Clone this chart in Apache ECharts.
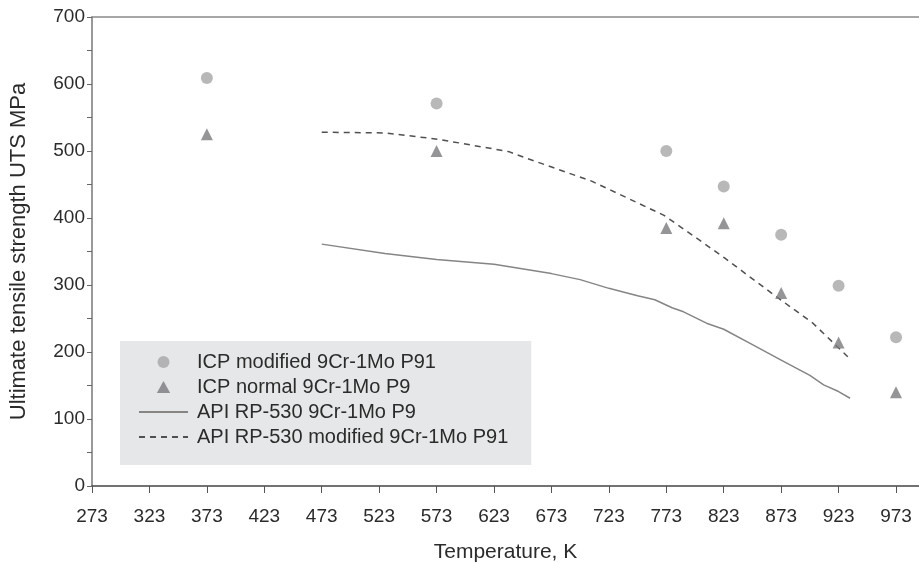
<!DOCTYPE html>
<html>
<head>
<meta charset="utf-8">
<script src="https://cdn.jsdelivr.net/npm/echarts@6/dist/echarts.min.js"></script>
<style>
  html, body { margin: 0; padding: 0; background: #fff; }
  #chart { width: 919px; height: 564px; }
</style>
</head>
<body>
<div id="chart"></div>
<script>
// x tick labels (K)
const xTicks = [273, 323, 373, 423, 473, 523, 573, 623, 673, 723, 773, 823, 873, 923, 973];

// ICP measured points [K, MPa]
const icpModifiedP91 = [[373, 609], [573, 571], [773, 500], [823, 447], [873, 375], [923, 299], [973, 222]];
const icpNormalP9 = [[373, 525], [573, 500], [773, 385], [823, 392], [873, 288], [923, 214], [973, 140]];

// API RP-530 curves
const apiP9 = [
  [473, 361], [528, 347], [573, 338], [623, 331], [673, 317], [698, 308],
  [723, 295], [748, 284], [763, 278], [778, 266], [788, 260], [808, 243],
  [823, 234], [848, 211], [873, 188], [898, 165], [910, 151], [923, 141], [933, 131]
];
const apiP91 = [
  [473, 528], [528, 527], [572, 518], [593, 512], [636, 499], [650, 490],
  [708, 455], [771, 404], [801, 368], [824, 340], [870, 281], [900, 244], [931, 193]
];

const font = 'Liberation Sans';
const textColor = '#2b2b2b';
const triPath = 'path://M5,0 L10,9 L0,9 Z';

const chart = echarts.init(document.getElementById('chart'));
chart.setOption({
  animation: false,
  grid: { left: 92, right: 0, top: 17, bottom: 78, outerBoundsMode: 'none' },
  textStyle: { fontFamily: font },
  legend: {
    orient: 'vertical',
    left: 120,
    top: 341,
    backgroundColor: '#e6e7e8',
    padding: [11, 23, 18, 18],
    itemWidth: 49,
    itemHeight: 12,
    itemGap: 5,
    textStyle: { fontSize: 20, lineHeight: 20, color: textColor, fontFamily: font, padding: [0, 0, 0, 4] },
    data: [
      { name: 'ICP modified 9Cr-1Mo P91', icon: 'circle' },
      { name: 'ICP normal 9Cr-1Mo P9', icon: triPath },
      { name: 'API RP-530 9Cr-1Mo P9', itemStyle: { opacity: 0 } },
      { name: 'API RP-530 modified 9Cr-1Mo P91', itemStyle: { opacity: 0 } }
    ]
  },
  xAxis: [{
    type: 'value',
    min: 273,
    max: 993,
    name: 'Temperature, K',
    nameLocation: 'middle',
    nameGap: 56,
    nameTextStyle: { fontSize: 21, color: textColor, fontFamily: font },
    splitLine: { show: false },
    axisLine: { lineStyle: { color: '#444', width: 1.5 } },
    axisTick: { show: true, length: 7, customValues: xTicks, lineStyle: { color: '#555' } },
    axisLabel: { customValues: xTicks, fontSize: 19, color: textColor, margin: 21, fontFamily: font }
  }, {
    type: 'value',
    position: 'top',
    min: 273,
    max: 993,
    splitLine: { show: false },
    axisLine: { show: true, lineStyle: { color: '#8a8a8a', width: 1.5 } },
    axisTick: { show: false },
    axisLabel: { show: false }
  }],
  yAxis: {
    type: 'value',
    min: 0,
    max: 700,
    interval: 50,
    name: 'Ultimate tensile strength UTS MPa',
    nameLocation: 'middle',
    nameGap: 62,
    nameTextStyle: { fontSize: 22, color: textColor, fontFamily: font },
    splitLine: { show: false },
    axisLine: { show: true, lineStyle: { color: '#777', width: 1.5 } },
    axisTick: { show: true, length: 5, lineStyle: { color: '#666' } },
    axisLabel: {
      fontSize: 19, color: textColor, margin: 7, fontFamily: font,
      formatter: v => (v % 100 === 0 ? String(v) : '')
    }
  },
  series: [{
    name: 'ICP modified 9Cr-1Mo P91',
    type: 'scatter',
    symbol: 'circle',
    symbolSize: 12,
    itemStyle: { color: '#a6a6a8' },
    data: icpModifiedP91,
    z: 3
  }, {
    name: 'ICP normal 9Cr-1Mo P9',
    type: 'scatter',
    symbol: 'triangle',
    symbolSize: 12,
    itemStyle: { color: '#7b7b7e' },
    data: icpNormalP9,
    z: 3
  }, {
    name: 'API RP-530 9Cr-1Mo P9',
    type: 'line',
    symbol: 'none',
    lineStyle: { color: '#858585', width: 1.5 },
    itemStyle: { color: '#858585' },
    data: apiP9
  }, {
    name: 'API RP-530 modified 9Cr-1Mo P91',
    type: 'line',
    symbol: 'none',
    lineStyle: { color: '#505050', width: 1.5, type: [6, 5] },
    itemStyle: { color: '#505050' },
    data: apiP91
  }]
});
</script>
</body>
</html>
